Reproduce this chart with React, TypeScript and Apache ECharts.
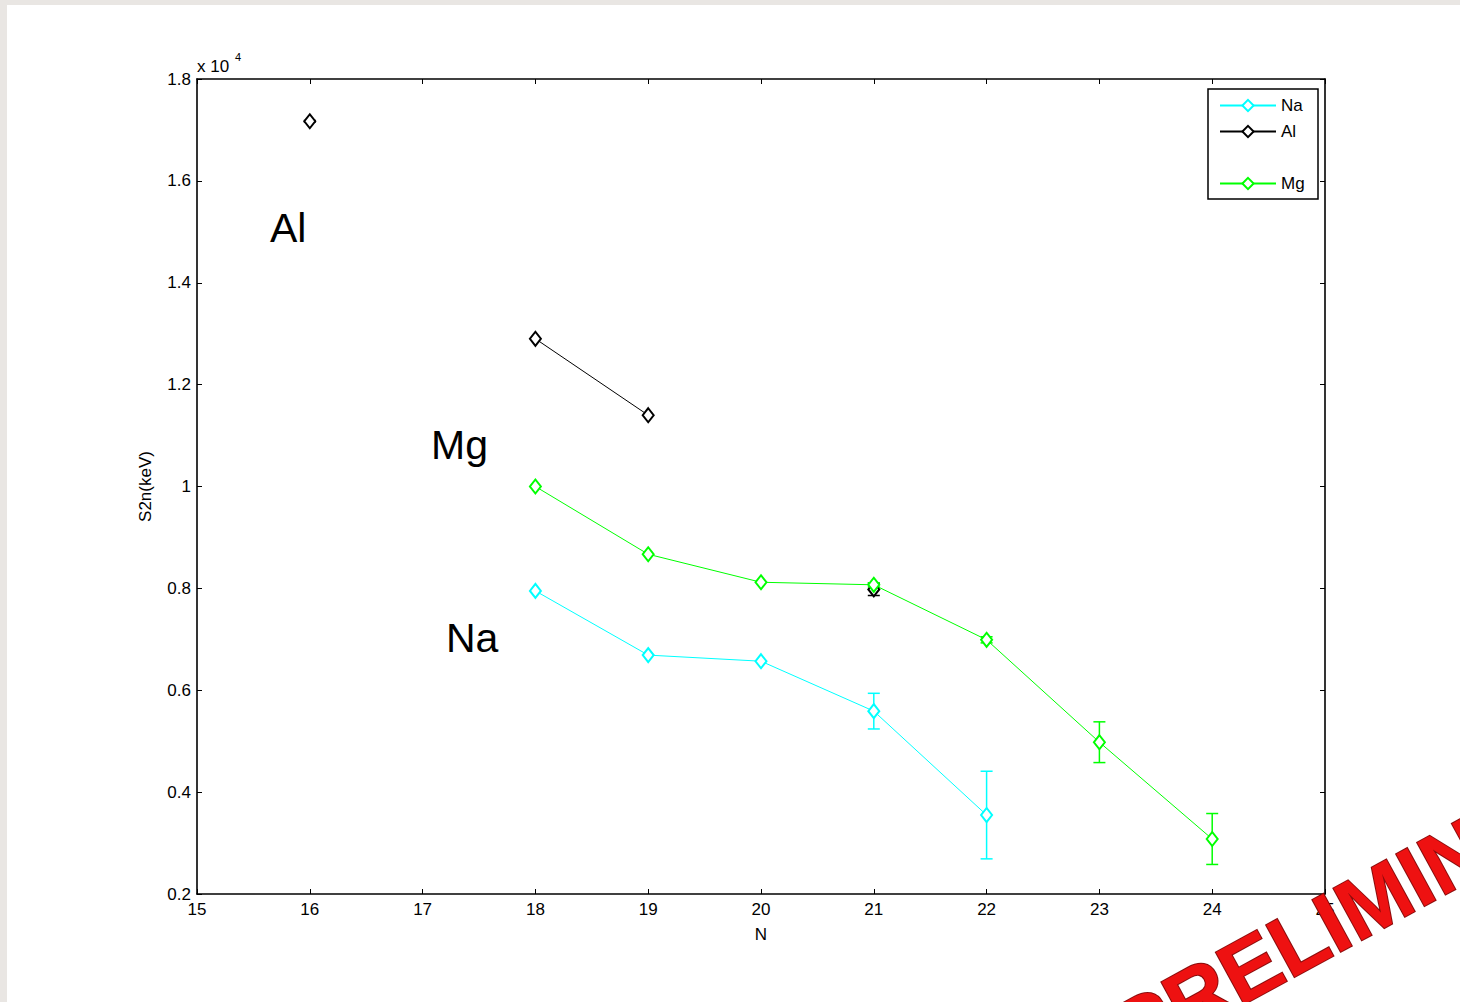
import React, { useEffect, useRef } from "react";
import * as echarts from "echarts";

// ---- data (S2n in keV, N neutron number) ----
const NA_N = [18, 19, 20, 21, 22];
const NA_S2N = [7950, 6690, 6570, 5590, 3550];
const NA_ERR = [0, 0, 0, 350, 860];

const AL_N = [16, 17, 18, 19, 20, 21];
const AL_S2N: (number | null)[] = [17170, null, 12900, 11400, null, 7980];
const AL_ERR: (number | null)[] = [15, null, 0, 0, null, 120];

const MG_N = [18, 19, 20, 21, 22, 23, 24];
const MG_S2N = [10000, 8670, 8120, 8070, 6990, 4980, 3080];
const MG_ERR = [0, 0, 0, 40, 60, 400, 500];

const X_MIN = 15;
const X_MAX = 25;
const Y_MIN = 2000;
const Y_MAX = 18000;
const Y_STEP = 2000;

const NA_COLOR = "#00ffff";
const AL_COLOR = "#000000";
const MG_COLOR = "#00ff00";
const FONT = "'Liberation Sans', Arial, sans-serif";

function linePoints(ns: number[], vals: (number | null)[]) {
  return ns.map((n, i) => [n, vals[i] == null ? "-" : vals[i]]);
}
function errPoints(ns: number[], vals: (number | null)[], errs: (number | null)[]) {
  const out: number[][] = [];
  ns.forEach((n, i) => {
    const v = vals[i];
    const e = errs[i];
    if (v != null && e != null && e > 0) out.push([n, v - e, v + e]);
  });
  return out;
}

function errSeries(name: string, data: number[][], color: string) {
  return {
    type: "custom",
    name: name + "_err",
    data,
    encode: { x: 0, y: [1, 2] },
    z: 3,
    renderItem: (_params: any, api: any) => {
      const x = api.value(0);
      const lo = api.value(1);
      const hi = api.value(2);
      const pHi = api.coord([x, hi]);
      const pLo = api.coord([x, lo]);
      const w = 6;
      const st = { stroke: color, lineWidth: 1.5 };
      return {
        type: "group",
        children: [
          { type: "line", shape: { x1: pHi[0], y1: pHi[1], x2: pLo[0], y2: pLo[1] }, style: st },
          { type: "line", shape: { x1: pHi[0] - w, y1: pHi[1], x2: pHi[0] + w, y2: pHi[1] }, style: st },
          { type: "line", shape: { x1: pLo[0] - w, y1: pLo[1], x2: pLo[0] + w, y2: pLo[1] }, style: st },
        ],
      };
    },
  };
}

function lineSeries(name: string, data: any[], color: string) {
  return {
    type: "line",
    name,
    data,
    symbol: "emptyDiamond",
    symbolSize: [11, 14],
    showSymbol: true,
    connectNulls: false,
    itemStyle: { color, borderWidth: 1 },
    lineStyle: { color, width: 1 },
    z: 4,
  };
}

export default function App() {
  const ref = useRef<HTMLDivElement>(null);
  useEffect(() => {
    if (!ref.current) return;
    const chart = echarts.init(ref.current, undefined, { renderer: "svg" });
    const axisLine = { show: true, lineStyle: { color: "#000", width: 1.6 } };
    const tick = { show: true, inside: true, length: 5, lineStyle: { color: "#000", width: 1 } };
    const labelStyle = { color: "#000", fontSize: 17, fontFamily: FONT };
    const legendText = { color: "#000", fontSize: 17, fontFamily: FONT };
    chart.setOption({
      animation: false,
      backgroundColor: "#ffffff",
      grid: { left: 190, top: 74, right: 135, bottom: 108, containLabel: false },
      xAxis: [
        {
          type: "value",
          min: X_MIN,
          max: X_MAX,
          interval: 1,
          position: "bottom",
          name: "N",
          nameLocation: "middle",
          nameGap: 32,
          nameTextStyle: { color: "#000", fontSize: 17, fontFamily: FONT },
          axisLine,
          axisTick: tick,
          axisLabel: { ...labelStyle, margin: 7 },
          splitLine: { show: false },
        },
        {
          type: "value",
          min: X_MIN,
          max: X_MAX,
          interval: 1,
          position: "top",
          axisLine,
          axisTick: tick,
          axisLabel: { show: false },
          splitLine: { show: false },
        },
      ],
      yAxis: [
        {
          type: "value",
          min: Y_MIN,
          max: Y_MAX,
          interval: Y_STEP,
          position: "left",
          name: "S2n(keV)",
          nameLocation: "middle",
          nameGap: 43,
          nameTextStyle: { color: "#000", fontSize: 17, fontFamily: FONT },
          axisLine,
          axisTick: tick,
          axisLabel: {
            ...labelStyle,
            margin: 6,
            formatter: (v: number) => String(Number((v / 10000).toFixed(1))),
          },
          splitLine: { show: false },
        },
        {
          type: "value",
          min: Y_MIN,
          max: Y_MAX,
          interval: Y_STEP,
          position: "right",
          axisLine,
          axisTick: tick,
          axisLabel: { show: false },
          splitLine: { show: false },
        },
      ],
      legend: [
        {
          data: ["Na", "Al"],
          orient: "vertical",
          left: 1212,
          top: 92,
          padding: 0,
          z: 20,
          itemWidth: 56,
          itemHeight: 14,
          itemGap: 9,
          textStyle: legendText,
          selectedMode: false,
        },
        {
          data: ["Mg"],
          orient: "vertical",
          left: 1212,
          top: 170,
          padding: 0,
          z: 20,
          itemWidth: 56,
          itemHeight: 14,
          textStyle: legendText,
          selectedMode: false,
        },
      ],
      series: [
        lineSeries("Na", linePoints(NA_N, NA_S2N), NA_COLOR),
        lineSeries("Al", linePoints(AL_N, AL_S2N), AL_COLOR),
        lineSeries("Mg", linePoints(MG_N, MG_S2N), MG_COLOR),
        errSeries("Na", errPoints(NA_N, NA_S2N, NA_ERR), NA_COLOR),
        errSeries("Al", errPoints(AL_N, AL_S2N, AL_ERR), AL_COLOR),
        errSeries("Mg", errPoints(MG_N, MG_S2N, MG_ERR), MG_COLOR),
      ],
      graphic: [
        {
          type: "rect",
          z: 5,
          shape: { x: 1201, y: 84, width: 110, height: 110 },
          style: { fill: "#ffffff", stroke: "#000", lineWidth: 1.5 },
        },
        {
          type: "text",
          x: 190,
          y: 61,
          style: { text: "x 10", fill: "#000", font: `17px ${FONT}`, verticalAlign: "middle" },
        },
        {
          type: "text",
          x: 228,
          y: 52,
          style: { text: "4", fill: "#000", font: `11px ${FONT}`, verticalAlign: "middle" },
        },
        {
          type: "text",
          x: 263,
          y: 223,
          style: { text: "Al", fill: "#000", font: `41px ${FONT}`, verticalAlign: "middle" },
        },
        {
          type: "text",
          x: 424,
          y: 440,
          style: { text: "Mg", fill: "#000", font: `41px ${FONT}`, verticalAlign: "middle" },
        },
        {
          type: "text",
          x: 439,
          y: 633,
          style: { text: "Na", fill: "#000", font: `41px ${FONT}`, verticalAlign: "middle" },
        },
        {
          type: "text",
          x: 1113,
          y: 1033,
          rotation: 0.5,
          z: 100,
          style: {
            text: "PRELIMINARY",
            fill: "#ee1111",
            stroke: "#8a0c0c",
            lineWidth: 2,
            font: `bold 86px ${FONT}`,
            verticalAlign: "middle",
            shadowColor: "rgba(0,0,0,0.35)",
            shadowBlur: 4,
            shadowOffsetX: 3,
            shadowOffsetY: 3,
          },
        },
      ],
    });
    return () => chart.dispose();
  }, []);
  return (
    <div style={{ position: "fixed", left: 0, top: 0, width: 1460, height: 1002, background: "#e9e6e3" }}>
      <div
        ref={ref}
        style={{ position: "absolute", left: 7, top: 5, width: 1453, height: 997, background: "#fff" }}
      />
    </div>
  );
}
